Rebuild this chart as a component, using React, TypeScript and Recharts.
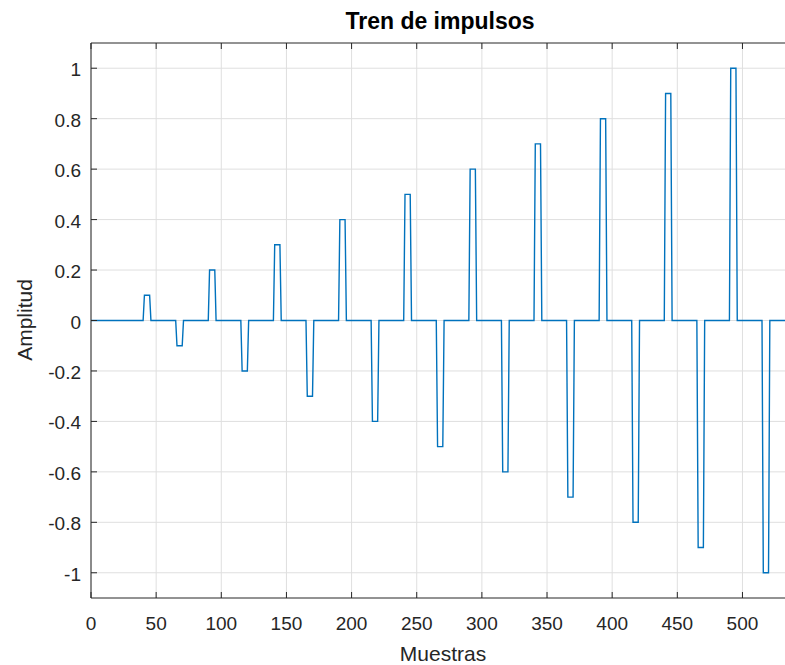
import { LineChart, Line, XAxis, YAxis, CartesianGrid, ReferenceLine } from "recharts";

// pulse train: a positive pulse every 50 samples, a negative one 25 samples later
const positiveStarts = [40, 90, 140, 190, 240, 290, 340, 390, 440, 490];
const positiveAmps = [0.1, 0.2, 0.3, 0.4, 0.5, 0.6, 0.7, 0.8, 0.9, 1.0];
const negativeStarts = [65, 115, 165, 215, 265, 315, 365, 415, 465, 515];
const negativeAmps = [-0.1, -0.2, -0.3, -0.4, -0.5, -0.6, -0.7, -0.8, -0.9, -1.0];
const pulseWidth = 5;
const sampleCount = 533;

const xTicks = [0, 50, 100, 150, 200, 250, 300, 350, 400, 450, 500];
const yTicks = [-1, -0.8, -0.6, -0.4, -0.2, 0, 0.2, 0.4, 0.6, 0.8, 1];

type Pt = { n: number; a: number };

function buildSignal(): Pt[] {
  const pulses: { s: number; a: number }[] = [];
  positiveStarts.forEach((s, i) => pulses.push({ s, a: positiveAmps[i] }));
  negativeStarts.forEach((s, i) => pulses.push({ s, a: negativeAmps[i] }));
  pulses.sort((p, q) => p.s - q.s);
  const pts: Pt[] = [{ n: 0, a: 0 }];
  pulses.forEach((p) => {
    pts.push({ n: p.s, a: 0 });
    pts.push({ n: p.s + 1, a: p.a });
    pts.push({ n: p.s + pulseWidth, a: p.a });
    pts.push({ n: p.s + pulseWidth + 1, a: 0 });
  });
  pts.push({ n: sampleCount, a: 0 });
  return pts;
}

const data = buildSignal();

const AXIS = "#262626";
const FONT = "'Liberation Sans', Arial, sans-serif";
const TOP = 43;
const BOTTOM = 598;
const LEFT = 91;

function XTick(props: any) {
  const { x, payload } = props;
  return (
    <g>
      <line x1={x} y1={BOTTOM} x2={x} y2={BOTTOM - 6} stroke={AXIS} />
      <line x1={x} y1={TOP} x2={x} y2={TOP + 6} stroke={AXIS} />
      <text x={x} y={630} textAnchor="middle" fill={AXIS} fontSize={19} fontFamily={FONT}>
        {payload.value}
      </text>
    </g>
  );
}

function YTick(props: any) {
  const { y, payload } = props;
  return (
    <g>
      <line x1={LEFT} y1={y} x2={LEFT + 6} y2={y} stroke={AXIS} />
      <text x={81} y={y + 8} textAnchor="end" fill={AXIS} fontSize={19} fontFamily={FONT}>
        {payload.value}
      </text>
    </g>
  );
}

export default function App() {
  return (
    <div style={{ position: "absolute", left: 0, top: 0, width: 785, height: 665, background: "#fff", overflow: "hidden" }}>
      <div
        style={{
          position: "absolute", left: 440, top: 8, transform: "translateX(-50%)", whiteSpace: "nowrap",
          fontFamily: FONT, fontWeight: "bold", fontSize: 23, color: "#000",
        }}
      >
        Tren de impulsos
      </div>
      <div
        style={{
          position: "absolute", left: 443, top: 642, transform: "translateX(-50%)", whiteSpace: "nowrap",
          fontFamily: FONT, fontSize: 21, color: AXIS,
        }}
      >
        Muestras
      </div>
      <div
        style={{
          position: "absolute", left: 25, top: 320, transform: "translate(-50%, -50%) rotate(-90deg)",
          fontFamily: FONT, fontSize: 21, color: AXIS, whiteSpace: "nowrap",
        }}
      >
        Amplitud
      </div>
      <LineChart
        width={785 + 20}
        height={665}
        data={data}
        margin={{ top: TOP, right: 0, bottom: 0, left: 0 }}
        style={{ position: "absolute", left: 0, top: 0 }}
      >
        <CartesianGrid stroke="#dfdfdf" strokeWidth={1} horizontalValues={yTicks} verticalValues={xTicks} />
        <XAxis
          dataKey="n"
          type="number"
          domain={[0, sampleCount + 15]}
          ticks={xTicks}
          height={665 - BOTTOM}
          tickLine={false}
          axisLine={{ stroke: AXIS }}
          tick={<XTick />}
          interval={0}
          allowDataOverflow
        />
        <YAxis
          type="number"
          domain={[-1.1, 1.1]}
          ticks={yTicks}
          width={LEFT}
          tickLine={false}
          axisLine={{ stroke: AXIS }}
          tick={<YTick />}
          interval={0}
          allowDataOverflow
        />
        <ReferenceLine y={1.1} stroke={AXIS} />
        <Line
          dataKey="a"
          type="linear"
          stroke="#0072BD"
          strokeWidth={1.4}
          dot={false}
          isAnimationActive={false}
        />
      </LineChart>
    </div>
  );
}
